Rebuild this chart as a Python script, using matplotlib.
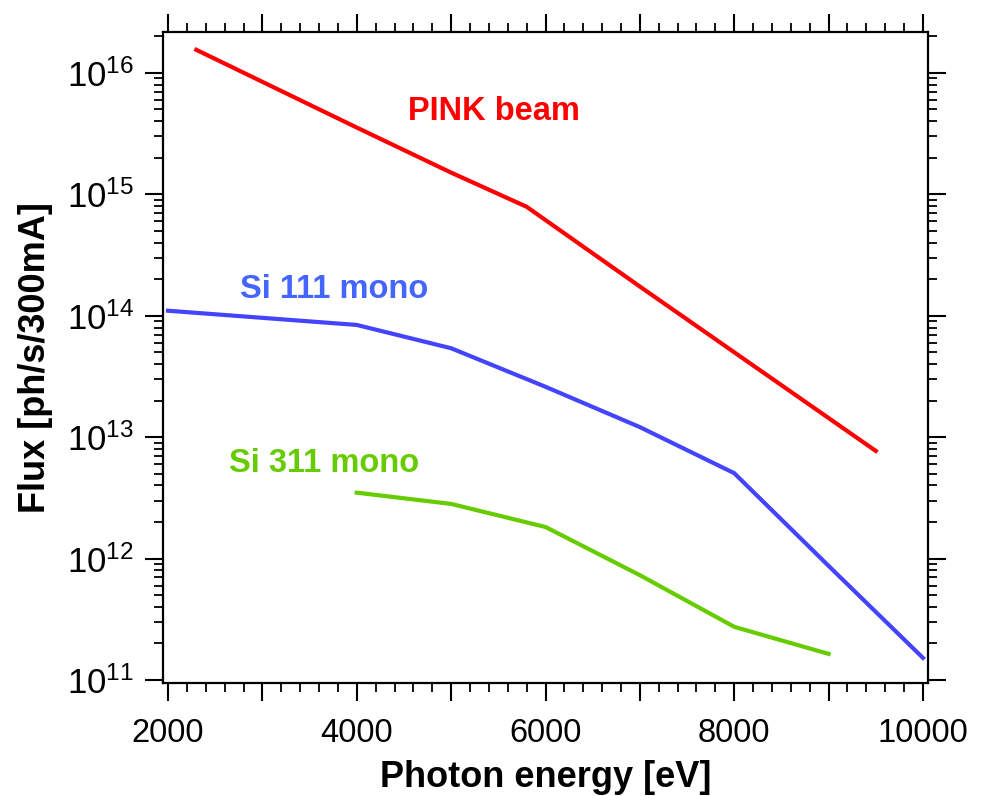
import numpy as np
import matplotlib
matplotlib.use("Agg")
import matplotlib.pyplot as plt
from matplotlib.ticker import MultipleLocator, FuncFormatter, LogLocator, NullFormatter

plt.rcParams['font.family'] = ['Liberation Sans', 'DejaVu Sans']
plt.rcParams['mathtext.fontset'] = 'custom'
plt.rcParams['mathtext.rm'] = 'Liberation Sans'
plt.rcParams['mathtext.default'] = 'regular'

# photon energy [eV] and flux [ph/s/300mA]
pink_energy = [2300, 4000, 5000, 5800, 7000, 8000, 9500]
pink_flux = [1.55e16, 3.55e15, 1.51e15, 7.9e14, 1.74e14, 5.0e13, 7.7e12]

si111_energy = [2000, 4000, 5000, 6000, 7000, 8000, 9000, 10000]
si111_flux = [1.1e14, 8.4e13, 5.4e13, 2.6e13, 1.21e13, 5.05e12, 8.7e11, 1.52e11]

si311_energy = [4000, 5000, 6000, 7000, 8000, 9000]
si311_flux = [3.49e12, 2.82e12, 1.82e12, 7.3e11, 2.74e11, 1.64e11]

red = '#FF0000'
blue = '#4444FF'
green = '#66CC00'

fig = plt.figure(figsize=(10, 7.96), dpi=100)
ax = fig.add_axes([0.163, 0.142, 0.765, 0.818])

ax.plot(pink_energy, pink_flux, color=red, lw=3, solid_joinstyle='miter')
ax.plot(si111_energy, si111_flux, color=blue, lw=3, solid_joinstyle='miter')
ax.plot(si311_energy, si311_flux, color=green, lw=3, solid_joinstyle='miter')

ax.text(4540, 4.1e15, 'PINK beam', color=red, fontsize=23.5, fontweight='bold', ha='left', va='baseline')
ax.text(2760, 1.39e14, 'Si 111 mono', color='#4466FF', fontsize=23.5, fontweight='bold', ha='left', va='baseline')
ax.text(2650, 5.2e12, 'Si 311 mono', color=green, fontsize=23.5, fontweight='bold', ha='left', va='baseline')

ax.set_yscale('log')
ax.set_xlim(1947, 10053)
ax.set_ylim(9.45e10, 2.18e16)

# x ticks: labelled every 2000, medium every 1000, small every 200
ax.xaxis.set_major_locator(MultipleLocator(1000))
ax.xaxis.set_minor_locator(MultipleLocator(200))
ax.xaxis.set_major_formatter(FuncFormatter(lambda v, p: f'{int(round(v))}' if int(round(v)) % 2000 == 0 else ''))

ax.yaxis.set_major_locator(LogLocator(base=10, numticks=20))
ax.yaxis.set_minor_locator(LogLocator(base=10, subs=np.arange(2, 10), numticks=20))
ax.yaxis.set_minor_formatter(NullFormatter())

for s in ax.spines.values():
    s.set_linewidth(1.6)

ax.tick_params(axis='both', which='major', direction='out', length=13, width=1.5,
               top=True, right=True, color='black')
ax.tick_params(axis='both', which='minor', direction='out', length=6.5, width=1.3,
               top=True, right=True, color='black')
ax.tick_params(axis='x', which='major', labelsize=23.5, pad=12)
ax.tick_params(axis='y', which='major', labelsize=25, pad=8)

# shorter ticks at odd thousands
for tick in ax.xaxis.get_major_ticks():
    loc = tick.get_loc()
    if loc is not None and int(round(loc)) % 2000 != 0:
        tick.tick1line.set_markersize(9.4)
        tick.tick2line.set_markersize(9.4)

ax.set_xlabel('Photon energy [eV]', fontsize=26, fontweight='bold', labelpad=8)
ax.set_ylabel('Flux [ph/s/300mA]', fontsize=26, fontweight='bold', labelpad=10)

fig.savefig('out.png', dpi=100)
